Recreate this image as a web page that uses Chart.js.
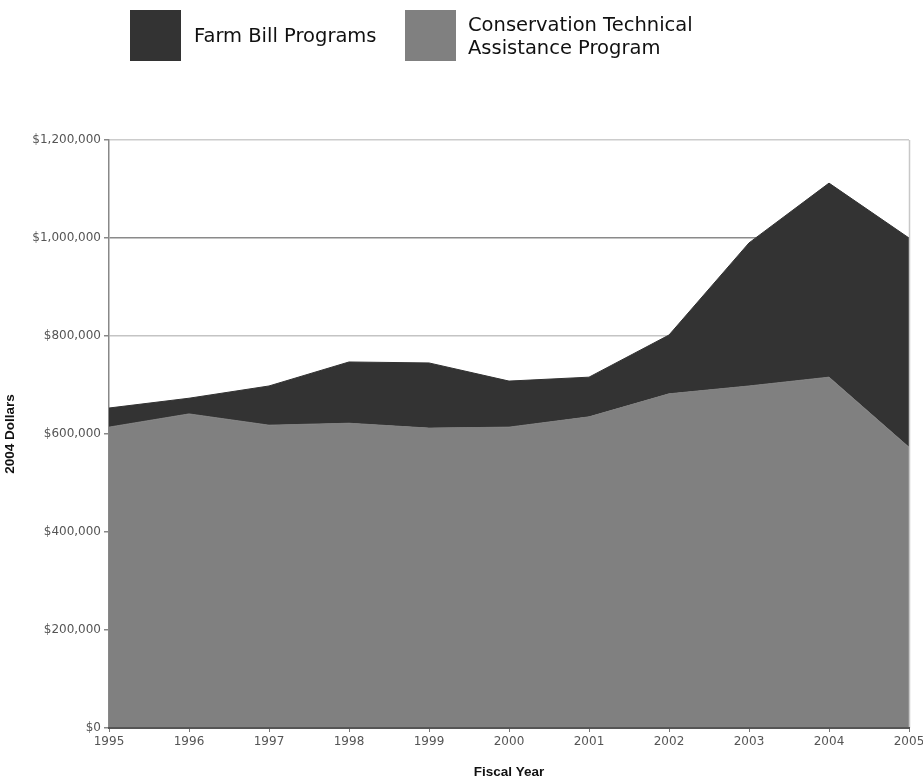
<!DOCTYPE html>
<html>
<head>
<meta charset="utf-8">
<script src="https://cdn.jsdelivr.net/npm/chart.js@4/dist/chart.umd.min.js"></script>
<style>
  html, body { margin: 0; padding: 0; background: #ffffff; }
  #wrap { position: relative; width: 923px; height: 777px; overflow: hidden; }
  #c { position: absolute; left: 0; top: 0; }
  .sw { position: absolute; width: 51px; height: 51px; top: 10px; }
  .lt { position: absolute; font-family: "DejaVu Sans", sans-serif; font-size: 19.5px; color: #111; line-height: 23px; }
</style>
</head>
<body>
<div id="wrap">
  <canvas id="c" width="923" height="777"></canvas>
  <div class="sw" style="left:130px; background:#333333;"></div>
  <div class="lt" style="left:194px; top:24px;">Farm Bill Programs</div>
  <div class="sw" style="left:405px; background:#808080;"></div>
  <div class="lt" style="left:468px; top:13px;">Conservation Technical<br>Assistance Program</div>
</div>
<script>
const years = ["1995","1996","1997","1998","1999","2000","2001","2002","2003","2004","2005"];
const conservationTA = [614000, 641000, 618000, 622000, 612000, 614000, 635000, 682000, 698000, 716000, 573000];
const farmBill = [39000, 32000, 80000, 125000, 133000, 94000, 81000, 120000, 292000, 396000, 427000];
const yTicks = [0, 200000, 400000, 600000, 800000, 1000000, 1200000];
const seriesNames = ["Conservation Technical Assistance Program", "Farm Bill Programs"];

const frame = {
  id: 'frame',
  afterDatasetsDraw(chart) {
    const a = chart.chartArea, ctx = chart.ctx;
    ctx.save();
    ctx.strokeStyle = '#c8c8c8';
    ctx.lineWidth = 1.5;
    ctx.beginPath();
    ctx.moveTo(a.right + 0.5, a.top);
    ctx.lineTo(a.right + 0.5, a.bottom);
    ctx.stroke();
    ctx.restore();
  }
};

new Chart(document.getElementById('c'), {
  type: 'line',
  data: {
    labels: years,
    datasets: [
      { label: seriesNames[0], data: conservationTA, backgroundColor: '#808080', borderColor: '#808080',
        borderWidth: 1, fill: 'origin', pointRadius: 0, tension: 0 },
      { label: seriesNames[1], data: farmBill, backgroundColor: '#333333', borderColor: '#333333',
        borderWidth: 1, fill: '-1', pointRadius: 0, tension: 0 }
    ]
  },
  options: {
    responsive: false,
    animation: false,
    events: [],
    layout: { padding: { top: 140, right: 14, left: 0, bottom: 0 } },
    plugins: { legend: { display: false }, tooltip: { enabled: false } },
    scales: {
      x: {
        stacked: true,
        offset: false,
        grid: { drawOnChartArea: false, tickLength: 4, color: '#777', tickColor: '#777' },
        border: { color: '#555', width: 2, z: 1 },
        ticks: { color: '#555', font: { family: 'DejaVu Sans', size: 12 }, padding: 3, maxRotation: 0, autoSkip: false },
        title: { display: true, text: 'Fiscal Year', color: '#111', font: { family: 'Liberation Sans', size: 13.5, weight: 'bold', lineHeight: 1 }, padding: { top: 0, bottom: -2 } },
        afterFit(s) { s.height = 49; s.paddingLeft = 0; s.paddingRight = 0; }
      },
      y: {
        stacked: true,
        min: 0, max: 1200000,
        afterBuildTicks(s) { s.ticks = yTicks.map(v => ({ value: v })); },
        grid: {
          tickLength: 5,
          color: (c) => {
            const v = c.tick ? c.tick.value : null;
            if (v === 1000000) return '#8a8a8a';
            if (v === 800000) return '#c4c4c4';
            if (v === 1200000) return '#cccccc';
            return '#999999';
          },
          lineWidth: 1.5,
          tickColor: '#888'
        },
        border: { color: '#888', width: 1.5 },
        ticks: {
          color: '#555', font: { family: 'DejaVu Sans', size: 12 }, padding: 3,
          callback: (v) => '$' + Number(v).toLocaleString('en-US')
        },
        title: { display: true, text: '2004 Dollars', color: '#111', font: { family: 'Liberation Sans', size: 13.5, weight: 'bold', lineHeight: 1.2 }, padding: { top: 2, bottom: 0 } },
        afterFit(s) { s.width = 109; s.paddingTop = 0; s.paddingBottom = 0; }
      }
    }
  },
  plugins: [frame]
});
</script>
</body>
</html>
